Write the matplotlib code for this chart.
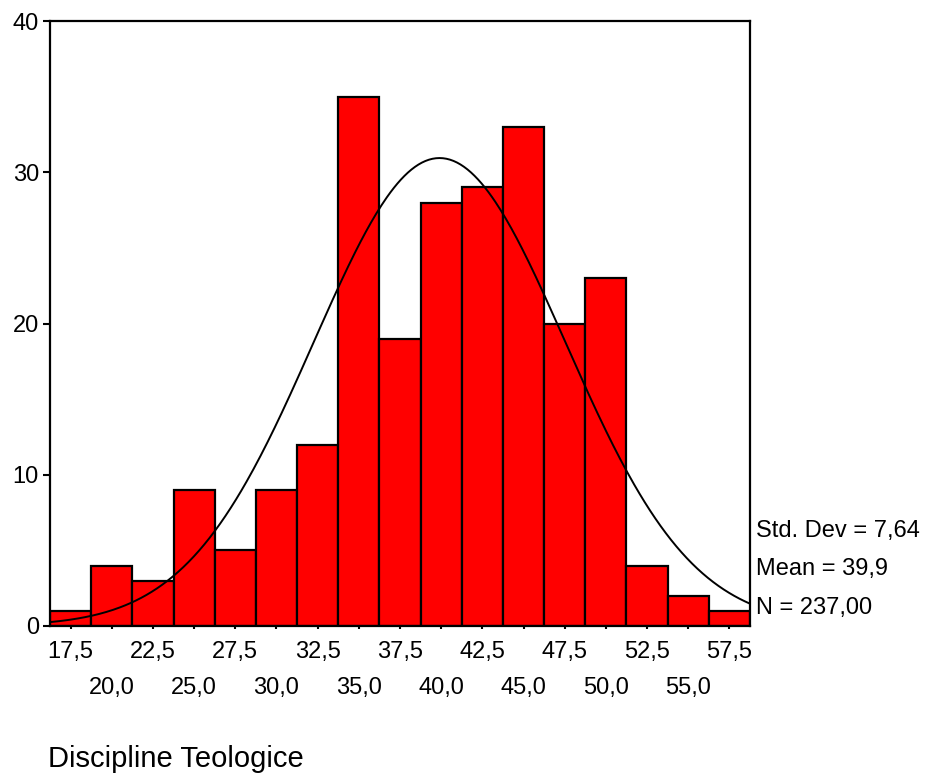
import numpy as np
import matplotlib
matplotlib.use("Agg")
import matplotlib.pyplot as plt

plt.rcParams['font.family'] = ['Liberation Sans', 'DejaVu Sans']

bin_centers = [17.5, 20.0, 22.5, 25.0, 27.5, 30.0, 32.5, 35.0, 37.5, 40.0,
               42.5, 45.0, 47.5, 50.0, 52.5, 55.0, 57.5]
counts = [1, 4, 3, 9, 5, 9, 12, 35, 19, 28, 29, 33, 20, 23, 4, 2, 1]
bin_width = 2.5
mean_val = 39.9
std_val = 7.64
n_val = 237
yticks = [0, 10, 20, 30, 40]
stats_lines = ["Std. Dev = 7,64", "Mean = 39,9", "N = 237,00"]
title = "Discipline Teologice"

fig = plt.figure(figsize=(9.27, 7.74), dpi=100)
ax = fig.add_axes([50/927, 1 - 626/774, 700/927, 605/774])

ax.bar(bin_centers, counts, width=bin_width, color='#ff0000',
       edgecolor='black', linewidth=1.6, zorder=2)

xmin = bin_centers[0] - bin_width / 2
xmax = bin_centers[-1] + bin_width / 2
xs = np.linspace(xmin, xmax, 400)
ys = n_val * bin_width / (std_val * np.sqrt(2 * np.pi)) * np.exp(-0.5 * ((xs - mean_val) / std_val) ** 2)
ax.plot(xs, ys, color='black', linewidth=1.4, zorder=3)

ax.set_xlim(xmin, xmax)
ax.set_ylim(0, 40)

fmt = lambda c: f"{c:.1f}".replace('.', ',')
row1 = bin_centers[0::2]
row2 = bin_centers[1::2]
ax.set_xticks(row1)
ax.set_xticklabels([fmt(c) for c in row1], fontsize=17)
ax.set_xticks(row2, minor=True)
ax.set_xticklabels([fmt(c) for c in row2], minor=True, fontsize=17)
ax.tick_params(axis='x', which='major', direction='out', length=2, width=1.5, pad=9)
ax.tick_params(axis='x', which='minor', direction='out', length=2, width=1.5, pad=35)
ax.set_yticks(yticks)
ax.set_yticklabels([str(v) for v in yticks], fontsize=17)
ax.tick_params(axis='y', direction='out', length=5, width=1.5, pad=3)

for sp in ax.spines.values():
    sp.set_linewidth(1.6)

for i, s in enumerate(stats_lines):
    fig.text(756/927, 1 - (531 + 38.5 * i)/774, s, fontsize=17, va='center', ha='left')

fig.text(48/927, 1 - 767/774, title, fontsize=21, va='baseline', ha='left')

fig.savefig("out.png", dpi=100)
